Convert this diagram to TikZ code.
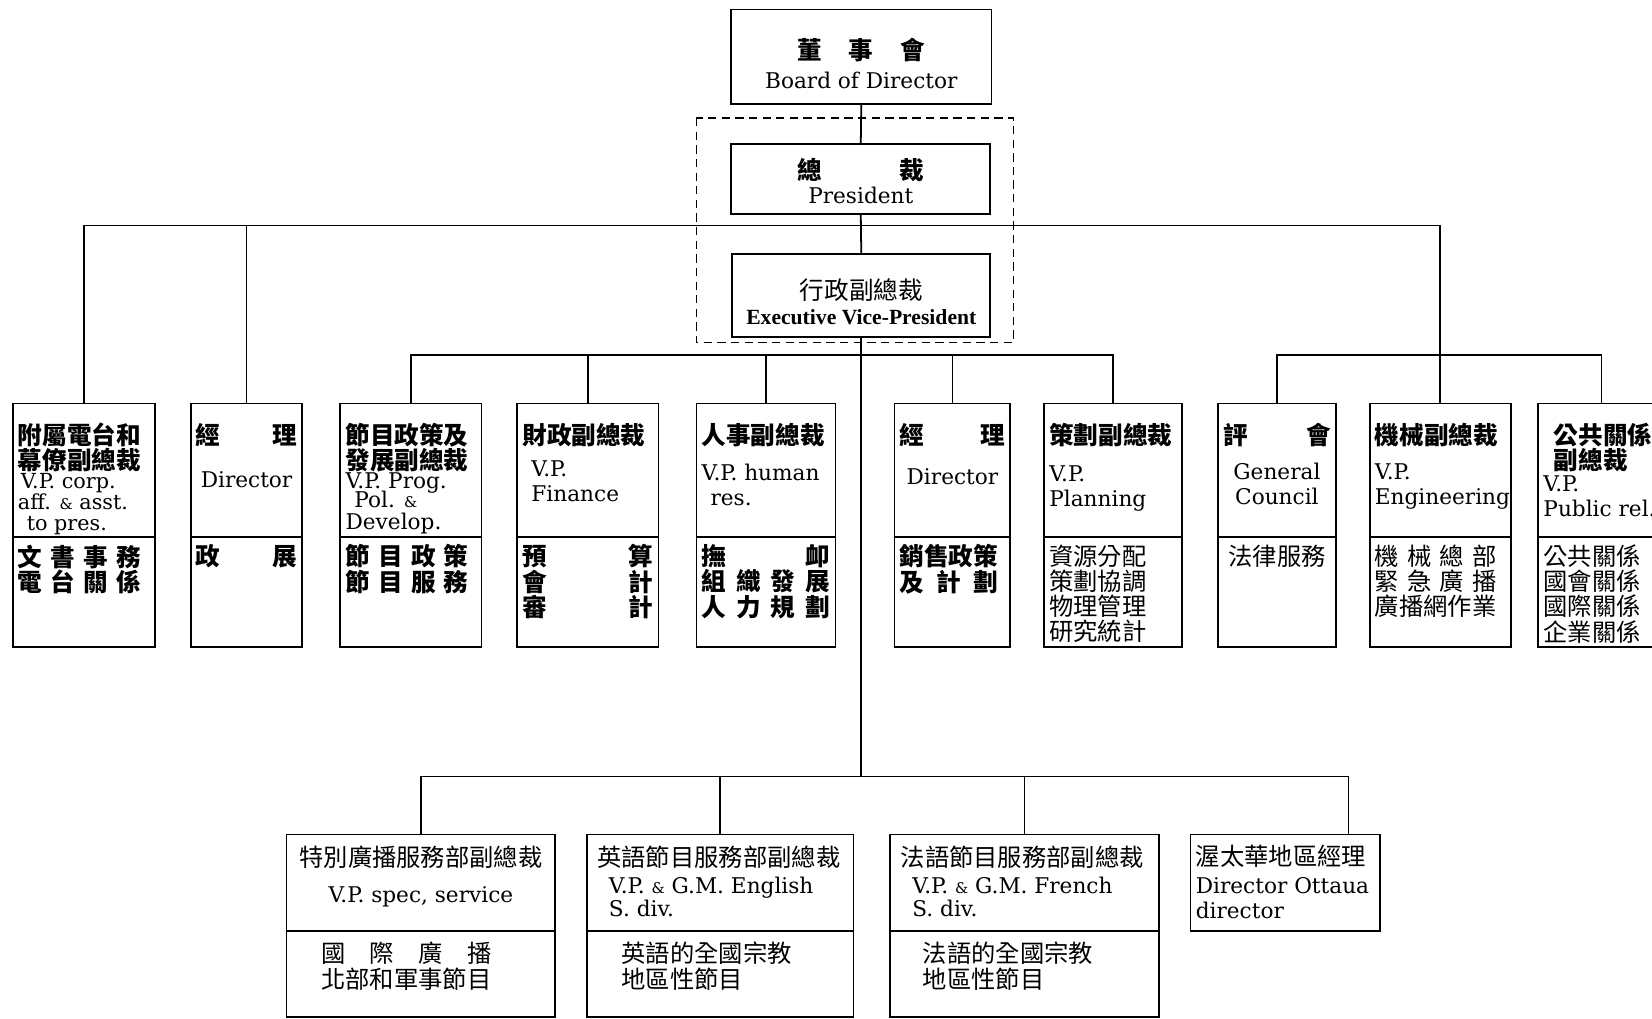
\documentclass[tikz,border=0pt]{standalone}
\usepackage{fontspec}
\setmainfont{DejaVu Serif}
\newfontfamily\cjkfont{Noto Sans CJK TC}
\newfontfamily\timesfont{Liberation Serif}
\usetikzlibrary{positioning}

\newdimen\pxu \pxu=0.0125cm
\newcommand{\zh}{\cjkfont\bfseries\fontsize{8.3}{8.5}\selectfont}
\newcommand{\zhr}{\cjkfont\fontsize{8.2}{8.5}\selectfont}
\newcommand{\amp}{{\fontsize{5}{6}\selectfont\&}}
\newcommand{\spreadline}[2]{\leavevmode\hbox to #1em{#2}}
\newcommand{\boxcell}[4][18.5]{\parbox[c][#3\pxu][t]{\dimexpr#2\pxu-10\pxu\relax}{\lineskiplimit=-10pt\vspace*{#1\pxu}#4}}

\tikzset{
    orgbox/.style={draw, line width=0.6pt, inner xsep=0.0625cm, inner ysep=0pt, outer sep=0pt, anchor=north west, font=\fontsize{7.3}{8.5}\selectfont},
    link/.style={line width=0.6pt},
}

\begin{document}
\begin{tikzpicture}[x=0.0125cm, y=-0.0125cm]
    \useasboundingbox (0,0) rectangle (1568,967);
    \clip (0,0) rectangle (1568,967);

    % top of the chart
    \node[orgbox] (board) at (694,9) {\boxcell[27]{247}{90}{\centering
        {\zh 董\hspace{9pt}事\hspace{9pt}會}\\[1.3pt]
        Board of Director}};
    \node[orgbox] (pres) at (694,137) {\boxcell[13.5]{246}{66}{\centering
        {\zh 總\hspace{26pt}裁}\\[-0.5pt]
        President}};
    \node[orgbox] (evp) at (695,241) {\boxcell[23.5]{245}{79}{\centering
        {\cjkfont\fontsize{8.3}{8.5}\selectfont 行政副總裁}\\
        {\timesfont\bfseries Executive Vice-President}}};
    \draw[dash pattern=on 2.8pt off 1.8pt, line width=0.6pt] (661,112) rectangle (962,325);

    % middle row
    \node[orgbox] (sub1) at (12,383) {\boxcell{135}{127}{%
        {\zh 附屬電台和}\\ {\zh 幕僚副總裁}\\[-2.1pt]
        {\fontsize{7}{7}\selectfont\hspace*{1pt}V.P. corp.}\\[-1.5pt]
        {\fontsize{7}{7}\selectfont\mbox{aff. \amp{} asst.}}\\[-1.5pt]
        {\fontsize{7}{7}\selectfont\hspace*{3pt}to pres.}}};
    \node[orgbox] (sub1-d) at (sub1.south west) {\boxcell[7]{135}{104}{\zh
        \spreadline{5}{文\hfill 書\hfill 事\hfill 務}\\
        \spreadline{5}{電\hfill 台\hfill 關\hfill 係}}};

    \node[orgbox] (sub2) at (181,383) {\boxcell{106}{127}{\centering
        {\zh 經\hfill 理}\\[6.3pt] Director}};
    \node[orgbox] (sub2-d) at (sub2.south west) {\boxcell[7]{106}{104}{\zh 政\hfill 展}};

    \node[orgbox] (prog) at (323,383) {\boxcell{134}{127}{%
        {\zh 節目政策及}\\ {\zh 發展副總裁}\\[-2pt]
        V.P. Prog.\\[-2pt]
        \hspace*{3pt}Pol. \amp\\[-1.4pt]
        Develop.}};
    \node[orgbox] (prog-d) at (prog.south west) {\boxcell[7]{134}{104}{\zh
        \spreadline{5}{節\hfill 目\hfill 政\hfill 策}\\
        \spreadline{5}{節\hfill 目\hfill 服\hfill 務}}};

    \node[orgbox] (fin) at (491,383) {\boxcell{134}{127}{%
        {\zh 財政副總裁}\\[2.3pt]
        \hspace*{3pt}V.P.\\
        \hspace*{3pt}Finance}};
    \node[orgbox] (fin-d) at (fin.south west) {\boxcell[7]{134}{104}{\zh
        預\hfill 算\\ 會\hfill 計\\ 審\hfill 計}};

    \node[orgbox] (hr) at (661,383) {\boxcell{132}{127}{%
        {\zh 人事副總裁}\\[3.8pt]
        \mbox{V.P. human}\\
        \hspace*{3pt}res.}};
    \node[orgbox] (hr-d) at (hr.south west) {\boxcell[7]{132}{104}{\zh
        撫\hfill 卹\\ 組\hfill 織\hfill 發\hfill 展\\ 人\hfill 力\hfill 規\hfill 劃}};

    \node[orgbox] (sales) at (849,383) {\boxcell{110}{127}{\centering
        {\zh 經\hfill 理}\\[5.2pt] Director}};
    \node[orgbox] (sales-d) at (sales.south west) {\boxcell[7]{110}{104}{\zh
        銷售政策\\ \spreadline{4}{及\hfill 計\hfill 劃}}};

    \node[orgbox] (plan) at (991,383) {\boxcell{131}{127}{%
        {\zh 策劃副總裁}\\[4.1pt]
        V.P.\\
        Planning}};
    \node[orgbox] (plan-d) at (plan.south west) {\boxcell[7]{131}{104}{\zhr
        資源分配\\ 策劃協調\\ 物理管理\\ 研究統計}};

    \node[orgbox] (law) at (1156,383) {\boxcell{112}{127}{\centering
        {\zh 評\hfill 會}\\[3.4pt] General\\ Council}};
    \node[orgbox] (law-d) at (law.south west) {\boxcell[7]{112}{104}{\zhr
        \hspace*{1.8pt}法律服務}};

    \node[orgbox] (eng) at (1300,383) {\boxcell{134}{127}{%
        {\zh 機械副總裁}\\[3.4pt]
        V.P.\\
        Engineering}};
    \node[orgbox] (eng-d) at (eng.south west) {\boxcell[7]{134}{104}{\zhr
        \spreadline{5}{機\hfill 械\hfill 總\hfill 部}\\
        \spreadline{5}{緊\hfill 急\hfill 廣\hfill 播}\\
        廣播網作業}};

    \node[orgbox] (pr) at (1460,383) {\boxcell{120}{127}{%
        {\zh \hspace*{3.5pt}公共關係}\\ {\zh \hspace*{3.5pt}副總裁}\\[-1pt]
        V.P.\\[-0.3pt]
        Public rel.}};
    \node[orgbox] (pr-d) at (pr.south west) {\boxcell[7]{120}{104}{\zhr
        公共關係\\ 國會關係\\ 國際關係\\ 企業關係}};

    % bottom row
    \node[orgbox] (spec) at (272,792) {\boxcell[10.5]{255}{92}{\centering
        {\zhr 特別廣播服務部副總裁}\\[3.8pt]
        V.P. spec, service}};
    \node[orgbox] (spec-d) at (spec.south west) {\boxcell[10.5]{255}{81}{\zhr
        \hspace*{28\pxu}\spreadline{7}{國\hfill 際\hfill 廣\hfill 播}\\
        \hspace*{28\pxu}北部和軍事節目}};

    \node[orgbox] (engl) at (557,792) {\boxcell[10.5]{253}{92}{%
        {\zhr \hspace*{5\pxu}英語節目服務部副總裁}\\[0.6pt]
        \hspace*{16\pxu}V.P. \amp{} G.M. English\\[-0.6pt]
        \hspace*{16\pxu}S. div.}};
    \node[orgbox] (engl-d) at (engl.south west) {\boxcell[10.5]{253}{81}{\zhr
        \hspace*{28\pxu}英語的全國宗教\\ \hspace*{28\pxu}地區性節目}};

    \node[orgbox] (fren) at (845,792) {\boxcell[10.5]{255}{92}{%
        {\zhr \hspace*{5\pxu}法語節目服務部副總裁}\\[0.6pt]
        \hspace*{16\pxu}V.P. \amp{} G.M. French\\[-0.6pt]
        \hspace*{16\pxu}S. div.}};
    \node[orgbox] (fren-d) at (fren.south west) {\boxcell[10.5]{255}{81}{\zhr
        \hspace*{26\pxu}法語的全國宗教\\ \hspace*{26\pxu}地區性節目}};

    \node[orgbox] (ott) at (1130,792) {\boxcell[10.5]{180}{92}{%
        {\zhr 渥太華地區經理}\\[0.9pt]
        \mbox{Director Ottaua}\\
        director}};

    % connecting lines
    \coordinate (topbus) at (0,214);
    \coordinate (midbus) at (0,337);
    \coordinate (lowbus) at (0,737);
    \coordinate (ottjoin) at ([xshift=0.75cm]ott.north);

    \draw[link] (board.south) -- (pres.north);
    \draw[link] (pres.south) -- (evp.north);
    \draw[link] (evp.south) -- (evp.south |- lowbus);

    \draw[link] (sub1.north) |- (eng.north |- topbus) -- (eng.north);
    \draw[link] (sub2.north) -- (sub2.north |- topbus);

    \draw[link] (prog.north) |- (plan.north |- midbus) -- (plan.north);
    \foreach \n in {fin, hr, sales}
        \draw[link] (\n.north) -- (\n.north |- midbus);
    \draw[link] (law.north) |- (pr.north |- midbus) -- (pr.north);

    \draw[link] (spec.north) |- (ottjoin |- lowbus) -- (ottjoin);
    \foreach \n in {engl, fren}
        \draw[link] (\n.north) -- (\n.north |- lowbus);
\end{tikzpicture}
\end{document}
